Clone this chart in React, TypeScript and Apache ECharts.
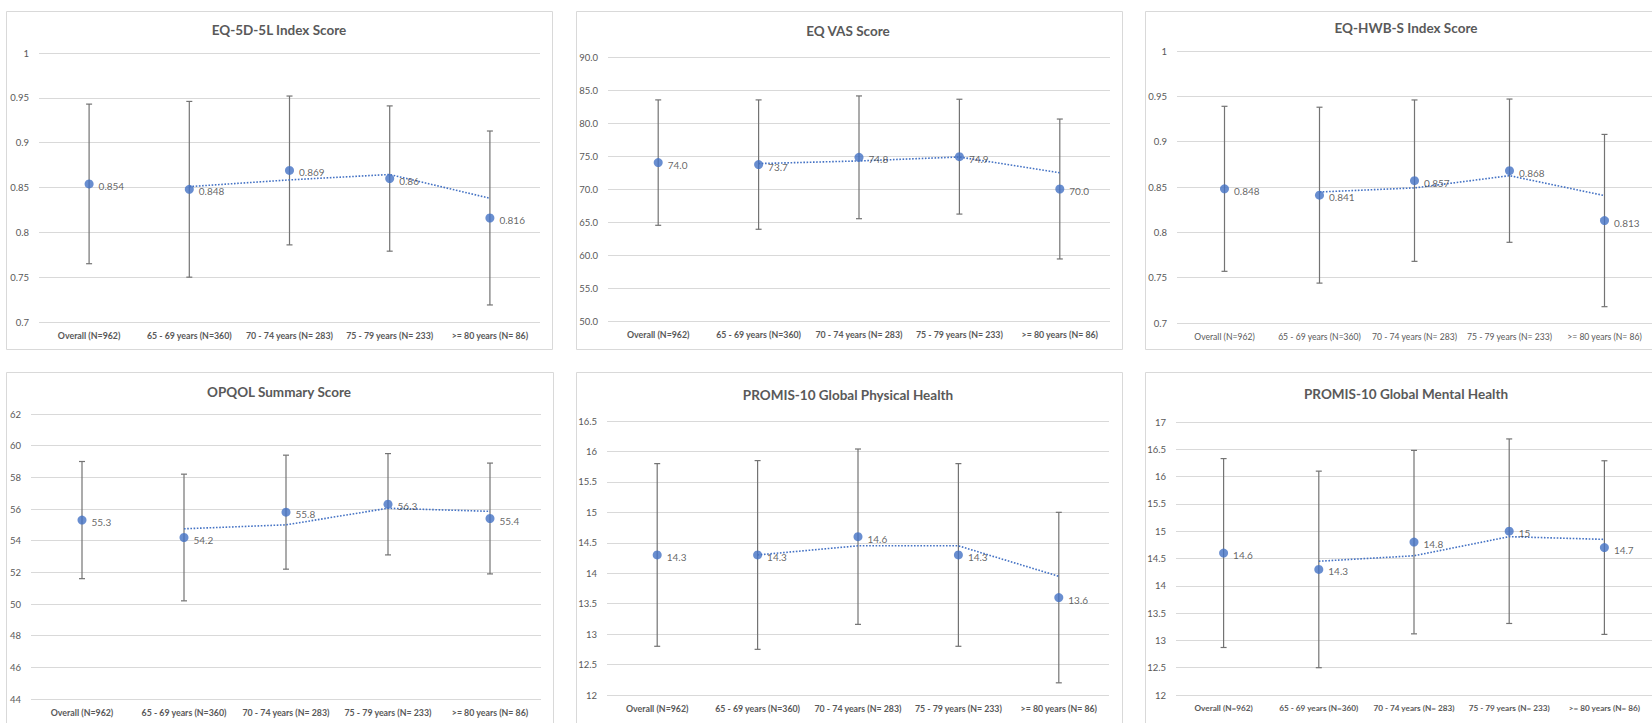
import React, { useEffect, useRef } from "react";
import * as echarts from "echarts";

const categories = [
  "Overall (N=962)",
  "65 - 69 years (N=360)",
  "70 - 74 years (N= 283)",
  "75 - 79 years (N= 233)",
  ">= 80 years (N= 86)",
];

// EQ-5D-5L Index Score
const eq5dMean = [0.854, 0.848, 0.869, 0.86, 0.816];
const eq5dSd = [0.089, 0.098, 0.083, 0.081, 0.097];
const eq5dTicks = [0.7, 0.75, 0.8, 0.85, 0.9, 0.95, 1];

// EQ VAS Score
const vasMean = [74.0, 73.7, 74.8, 74.9, 70.0];
const vasSd = [9.5, 9.8, 9.3, 8.7, 10.6];
const vasTicks = [50, 55, 60, 65, 70, 75, 80, 85, 90];

// EQ-HWB-S Index Score
const hwbMean = [0.848, 0.841, 0.857, 0.868, 0.813];
const hwbSd = [0.091, 0.097, 0.089, 0.079, 0.095];
const hwbTicks = [0.7, 0.75, 0.8, 0.85, 0.9, 0.95, 1];

// OPQOL Summary Score
const opqolMean = [55.3, 54.2, 55.8, 56.3, 55.4];
const opqolSd = [3.7, 4.0, 3.6, 3.2, 3.5];
const opqolTicks = [44, 46, 48, 50, 52, 54, 56, 58, 60, 62];

// PROMIS-10 Global Physical Health
const physMean = [14.3, 14.3, 14.6, 14.3, 13.6];
const physSd = [1.5, 1.55, 1.44, 1.5, 1.4];
const physTicks = [12, 12.5, 13, 13.5, 14, 14.5, 15, 15.5, 16, 16.5];

// PROMIS-10 Global Mental Health
const mentMean = [14.6, 14.3, 14.8, 15, 14.7];
const mentSd = [1.73, 1.8, 1.68, 1.69, 1.59];
const mentTicks = [12, 12.5, 13, 13.5, 14, 14.5, 15, 15.5, 16, 16.5, 17];

const FONT = "Lato, 'Noto Sans', sans-serif";
const BLUE = "#4472C4";

type Panel = {
  title: string;
  mean: number[];
  sd: number[];
  ticks: number[];
  tickDecimals: number | null;
  labelDecimals: number | null;
  grid: { left: number; top: number; width: number; height: number };
  box: { x: number; y: number; w: number; h: number };
  titlePos: [number, number];
  catBold: boolean;
  catSize: number;
};

const panels: Panel[] = [
  {
    title: "EQ-5D-5L Index Score",
    mean: eq5dMean, sd: eq5dSd, ticks: eq5dTicks, tickDecimals: null, labelDecimals: null,
    grid: { left: 39, top: 53, width: 501, height: 269 },
    box: { x: 6.5, y: 11.5, w: 546, h: 338 },
    titlePos: [279, 30], catBold: true, catSize: 8.8,
  },
  {
    title: "EQ VAS Score",
    mean: vasMean, sd: vasSd, ticks: vasTicks, tickDecimals: 1, labelDecimals: 1,
    grid: { left: 608, top: 57, width: 502, height: 264 },
    box: { x: 576.5, y: 11.5, w: 546, h: 338 },
    titlePos: [848, 31], catBold: true, catSize: 8.8,
  },
  {
    title: "EQ-HWB-S Index Score",
    mean: hwbMean, sd: hwbSd, ticks: hwbTicks, tickDecimals: null, labelDecimals: null,
    grid: { left: 1177, top: 51, width: 482, height: 272 },
    box: { x: 1145.5, y: 11.5, w: 522, h: 338 },
    titlePos: [1406, 28], catBold: false, catSize: 8.6,
  },
  {
    title: "OPQOL Summary Score",
    mean: opqolMean, sd: opqolSd, ticks: opqolTicks, tickDecimals: null, labelDecimals: null,
    grid: { left: 31, top: 414, width: 510, height: 285 },
    box: { x: 6.5, y: 372.5, w: 547, h: 360 },
    titlePos: [279, 392], catBold: true, catSize: 8.8,
  },
  {
    title: "PROMIS-10 Global Physical Health",
    mean: physMean, sd: physSd, ticks: physTicks, tickDecimals: null, labelDecimals: null,
    grid: { left: 607, top: 421, width: 502, height: 274 },
    box: { x: 576.5, y: 372.5, w: 546, h: 360 },
    titlePos: [848, 395], catBold: true, catSize: 8.8,
  },
  {
    title: "PROMIS-10 Global Mental Health",
    mean: mentMean, sd: mentSd, ticks: mentTicks, tickDecimals: null, labelDecimals: null,
    grid: { left: 1176, top: 422, width: 484, height: 273 },
    box: { x: 1145.5, y: 372.5, w: 522, h: 360 },
    titlePos: [1406, 394], catBold: true, catSize: 8.2,
  },
];

function fmt(v: number, dec: number | null) {
  if (dec === null) return String(Number(v.toFixed(3)));
  return v.toFixed(dec);
}

function movingAverage(vals: number[]) {
  return vals.map((v, i) => (i === 0 ? null : (vals[i - 1] + v) / 2));
}

function buildOption() {
  const grid: any[] = [];
  const xAxis: any[] = [];
  const yAxis: any[] = [];
  const series: any[] = [];
  const graphic: any[] = [];

  panels.forEach((p, k) => {
    graphic.push({
      type: "rect",
      shape: { x: p.box.x, y: p.box.y, width: p.box.w, height: p.box.h },
      style: { fill: "#ffffff", stroke: "#d9d9d9", lineWidth: 1 },
      z: -10,
      silent: true,
    });
    graphic.push({
      type: "text",
      x: p.titlePos[0],
      y: p.titlePos[1],
      style: {
        text: p.title,
        fill: "#595959",
        font: `bold 13.5px ${FONT}`,
        textAlign: "center",
        textVerticalAlign: "middle",
      },
      silent: true,
    });

    grid.push({ ...p.grid, containLabel: false });
    xAxis.push({
      type: "category",
      gridIndex: k,
      data: categories,
      boundaryGap: true,
      axisLine: { show: false },
      axisTick: { show: false },
      axisLabel: {
        interval: 0,
        margin: 9,
        color: "#595959",
        fontFamily: FONT,
        fontSize: p.catSize,
        fontWeight: p.catBold ? "bold" : "normal",
      },
      splitLine: { show: false },
    });
    const tmin = p.ticks[0];
    const tmax = p.ticks[p.ticks.length - 1];
    const interval = Number((p.ticks[1] - p.ticks[0]).toFixed(4));
    yAxis.push({
      type: "value",
      gridIndex: k,
      min: tmin,
      max: tmax,
      interval,
      axisLine: { show: false },
      axisTick: { show: false },
      axisLabel: {
        margin: 10,
        color: "#595959",
        fontFamily: FONT,
        fontSize: 9.5,
        formatter: (v: number) => fmt(v, p.tickDecimals),
      },
      splitLine: { show: true, lineStyle: { color: "#d9d9d9", width: 1 } },
    });

    series.push({
      type: "custom",
      xAxisIndex: k,
      yAxisIndex: k,
      silent: true,
      z: 2,
      data: p.mean.map((m, i) => [i, m - p.sd[i], m + p.sd[i]]),
      encode: { x: 0, y: [1, 2] },
      renderItem: (params: any, api: any) => {
        const x = api.value(0);
        const lo = api.coord([x, api.value(1)]);
        const hi = api.coord([x, api.value(2)]);
        const cap = 3;
        const style = { stroke: "#737373", lineWidth: 1.2 };
        return {
          type: "group",
          children: [
            { type: "line", shape: { x1: hi[0], y1: hi[1], x2: lo[0], y2: lo[1] }, style },
            { type: "line", shape: { x1: hi[0] - cap, y1: hi[1], x2: hi[0] + cap, y2: hi[1] }, style },
            { type: "line", shape: { x1: lo[0] - cap, y1: lo[1], x2: lo[0] + cap, y2: lo[1] }, style },
          ],
        };
      },
    });

    series.push({
      type: "line",
      xAxisIndex: k,
      yAxisIndex: k,
      data: movingAverage(p.mean),
      showSymbol: false,
      symbol: "none",
      silent: true,
      z: 3,
      lineStyle: { color: BLUE, width: 1.6, type: [1.6, 1.6] },
    });

    series.push({
      type: "scatter",
      xAxisIndex: k,
      yAxisIndex: k,
      data: p.mean,
      symbol: "circle",
      symbolSize: 9,
      z: 4,
      itemStyle: { color: BLUE },
      label: {
        show: true,
        position: "right",
        distance: 5,
        offset: [0, 2],
        color: "#404040",
        fontFamily: FONT,
        fontSize: 10,
        formatter: (d: any) => fmt(d.value, p.labelDecimals),
      },
    });
  });

  return {
    animation: false,
    backgroundColor: "#ffffff",
    grid,
    xAxis,
    yAxis,
    series,
    graphic,
  };
}

export default function App() {
  const ref = useRef<HTMLDivElement>(null);
  useEffect(() => {
    if (!ref.current) return;
    const chart = echarts.init(ref.current, undefined, { renderer: "svg" });
    chart.setOption(buildOption() as any);
    return () => chart.dispose();
  }, []);
  return (
    <div
      ref={ref}
      style={{ position: "fixed", left: 0, top: 0, width: 1652, height: 723, background: "#fff" }}
    />
  );
}
